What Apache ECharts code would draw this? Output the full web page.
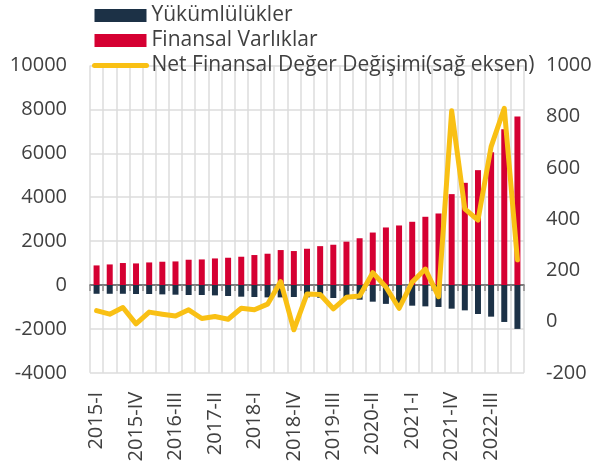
<!DOCTYPE html>
<html>
<head>
<meta charset="utf-8">
<script src="https://cdn.jsdelivr.net/npm/echarts@6/dist/echarts.min.js"></script>
<style>html,body{margin:0;padding:0;background:#fff;}#c{width:596px;height:468px;}</style>
</head>
<body>
<div id="c"></div>
<script>
const categories = [
  "2015-I","2015-II","2015-III","2015-IV",
  "2016-I","2016-II","2016-III","2016-IV",
  "2017-I","2017-II","2017-III","2017-IV",
  "2018-I","2018-II","2018-III","2018-IV",
  "2019-I","2019-II","2019-III","2019-IV",
  "2020-I","2020-II","2020-III","2020-IV",
  "2021-I","2021-II","2021-III","2021-IV",
  "2022-I","2022-II","2022-III","2022-IV",
  "2023-I"
];
const yukumlulukler = [
  -400,-400,-400,-410,-410,-427,-441,-455,-455,-473,-500,
  -532,-546,-564,-564,-546,-560,-580,-592,-620,-669,-760,
  -860,-900,-942,-973,-1001,-1078,-1155,-1320,-1442,-1684,-2000
];
const finansalVarliklar = [
  892,937,1001,983,1028,1060,1074,1151,1165,1210,1242,
  1288,1365,1425,1592,1547,1652,1770,1834,1975,2130,2390,
  2621,2712,2880,3108,3258,4140,4655,5232,6050,7098,7671
];
const netDegisim = [
  43,29,55,-9,37,29,22,46,12,20,9,
  52,46,68,156,-32,108,106,50,95,100,191,
  135,52,154,205,97,823,440,396,683,833,241
];
const leftTicks = { min: -4000, max: 10000, interval: 2000 };
const rightTicks = { min: -200, max: 1000, interval: 200 };

const FONT = "Open Sans";
const TXT = "#404040";
const NAVY = "#1c3146";
const RED = "#d50032";
const YEL = "#f9c014";

const chart = echarts.init(document.getElementById('c'), null, {renderer: 'canvas'});
chart.setOption({
  animation: false,
  textStyle: { fontFamily: FONT },
  legend: {
    orient: 'vertical',
    left: 87,
    top: 0,
    itemWidth: 52,
    itemHeight: 13,
    itemGap: 4,
    textStyle: { fontFamily: FONT, fontSize: 21, color: TXT },
    data: [
      { name: 'Yükümlülükler', icon: 'rect' },
      { name: 'Finansal Varlıklar', icon: 'rect' },
      { name: 'Net Finansal Değer Değişimi(sağ eksen)', itemStyle: { opacity: 0 }, lineStyle: { width: 5, cap: 'round', color: YEL } }
    ]
  },
  grid: { left: 90, right: 72, top: 65.5, bottom: 95.2, containLabel: false },
  xAxis: [
    {
      type: 'category',
      data: categories,
      position: 'bottom',
      boundaryGap: true,
      axisLine: { show: false, onZero: false },
      axisTick: { show: false },
      axisLabel: {
        interval: 2, rotate: 90, margin: 19,
        fontFamily: FONT, fontSize: 20, color: TXT
      },
      splitLine: { show: true, interval: 0, lineStyle: { color: '#dcdcdc', width: 1.5 } }
    },
    {
      type: 'category',
      data: categories,
      position: 'bottom',
      boundaryGap: true,
      axisLine: { show: true, onZero: true, onZeroAxisIndex: 0, lineStyle: { color: '#595959', width: 1.5 } },
      axisTick: { show: true, interval: 0, length: 6, inside: false, lineStyle: { color: '#8c8c8c', width: 1.5 } },
      axisLabel: { show: false },
      splitLine: { show: false }
    }
  ],
  yAxis: [
    {
      type: 'value',
      min: leftTicks.min, max: leftTicks.max, interval: leftTicks.interval,
      axisLine: { show: false },
      axisTick: { show: false },
      axisLabel: { margin: 23, fontFamily: FONT, fontSize: 20, color: TXT, formatter: v => String(v) },
      splitLine: { show: true, lineStyle: { color: '#dcdcdc', width: 1.5 } }
    },
    {
      type: 'value',
      position: 'right',
      min: rightTicks.min, max: rightTicks.max, interval: rightTicks.interval,
      axisLine: { show: false },
      axisTick: { show: false },
      axisLabel: { margin: 22, fontFamily: FONT, fontSize: 20, color: TXT, formatter: v => String(v) },
      splitLine: { show: false }
    }
  ],
  series: [
    {
      name: 'Yükümlülükler', type: 'bar', stack: 'total', xAxisIndex: 0, yAxisIndex: 0,
      data: yukumlulukler, barWidth: 6, itemStyle: { color: NAVY }
    },
    {
      name: 'Finansal Varlıklar', type: 'bar', stack: 'total', xAxisIndex: 0, yAxisIndex: 0,
      data: finansalVarliklar, barWidth: 6, itemStyle: { color: RED }
    },
    {
      name: 'Net Finansal Değer Değişimi(sağ eksen)', type: 'line', xAxisIndex: 0, yAxisIndex: 1,
      data: netDegisim, symbol: 'none', z: 5,
      itemStyle: { color: YEL },
      lineStyle: { color: YEL, width: 5, join: 'round', cap: 'round' }
    }
  ]
});
</script>
</body>
</html>
